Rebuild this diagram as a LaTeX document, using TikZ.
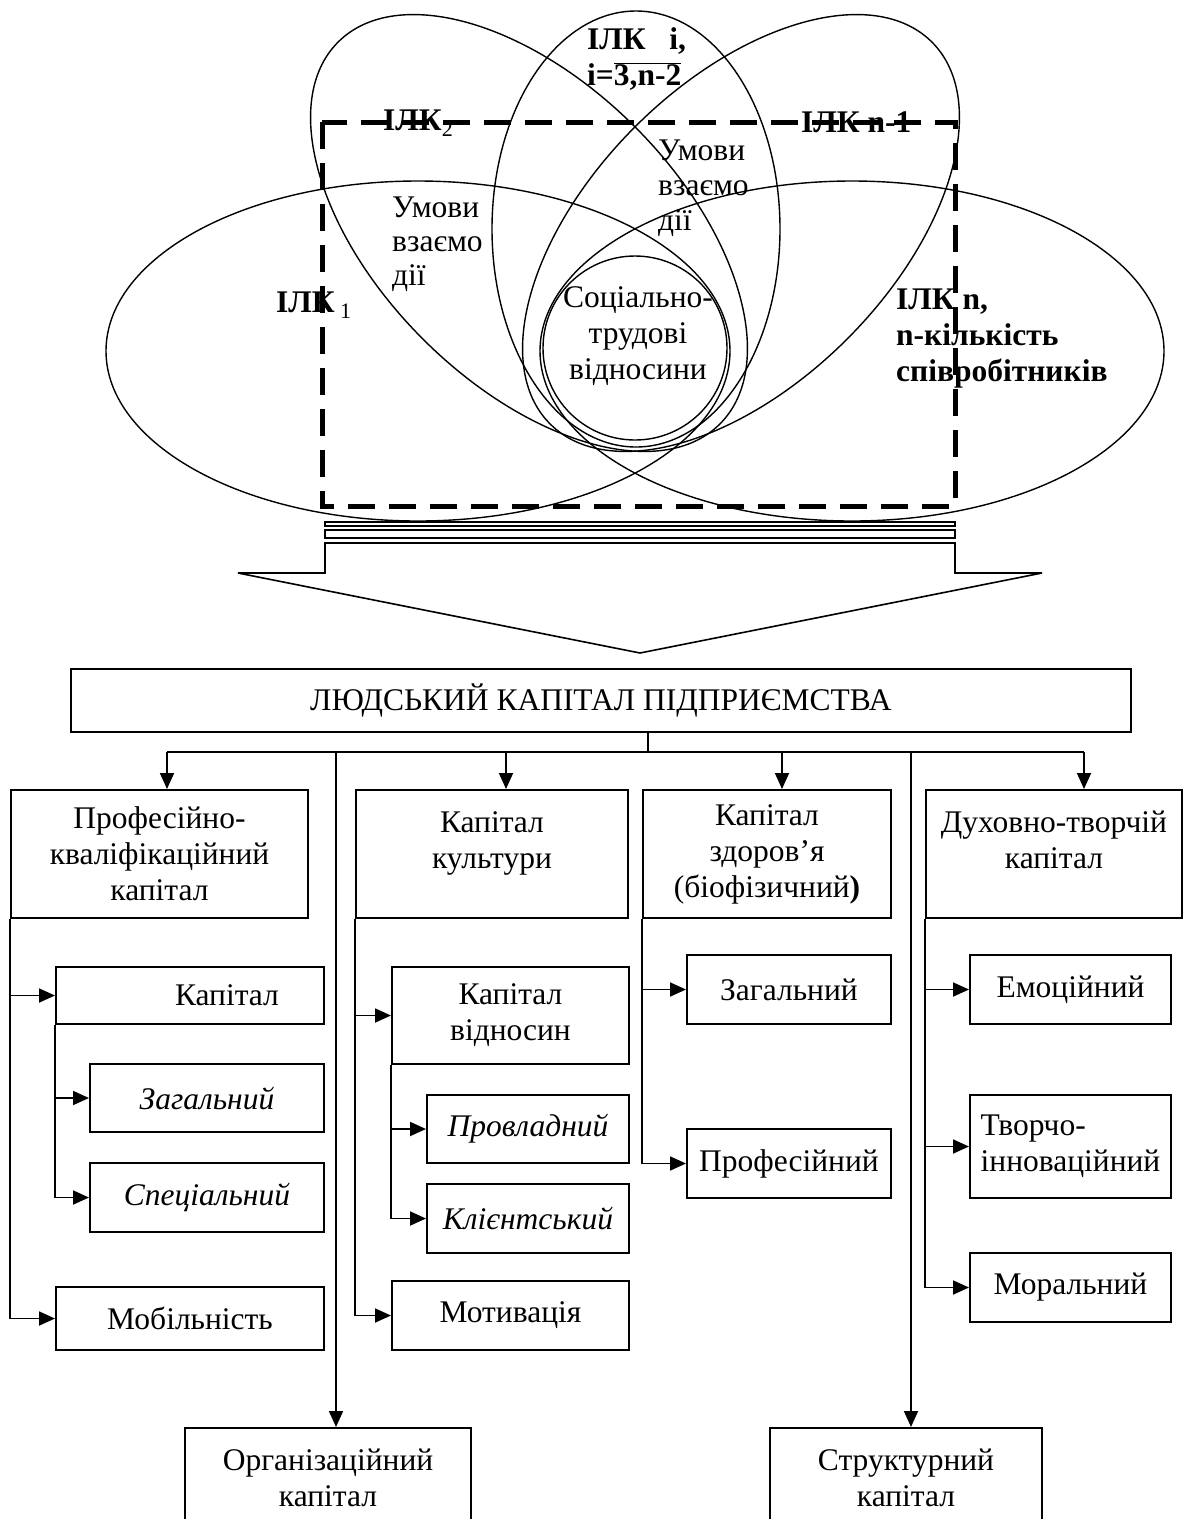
\documentclass[tikz,border=0pt]{standalone}
\usepackage{fontspec}
\setmainfont{Liberation Serif}
\usetikzlibrary{arrows.meta,positioning}

\begin{document}
\begin{tikzpicture}[x=1pt,y=-1pt,
  every node/.style={font=\fontsize{31.5}{36}\selectfont,align=center},
  box/.style={draw,line width=2pt,inner sep=0pt,anchor=north west},
  lbl/.style={inner sep=0pt,anchor=west,align=left,font=\fontsize{31.5}{36}\selectfont\bfseries},
  arr/.style={-{Triangle[length=16pt,width=14pt]},line width=1.8pt},
  petal/.style={line width=1.4pt}]
\clip (0,0) rectangle (1193,1519);
% individual human capitals
\draw[petal] (418,351) ellipse [x radius=312pt,y radius=170pt];
\draw[petal] (852,351) ellipse [x radius=312pt,y radius=170pt];
\draw[petal,rotate around={-45:(529,233)}] (529,233) ellipse [x radius=270pt,y radius=150pt];
\draw[petal,rotate around={45:(741,233)}] (741,233) ellipse [x radius=270pt,y radius=150pt];
\draw[petal] (636,229) ellipse [x radius=144pt,y radius=218pt];
\draw[petal] (635,348) circle [radius=92pt];
\node[lbl] (ilk1) at (276,305) {ІЛК\,\textsubscript{\mdseries 1}};
\node[lbl] (ilk2) at (383,123) {ІЛК\textsubscript{\mdseries 2}};
\node[lbl] (ilki) at (587,59) {ІЛК~~ i,\\i=\(\overline{\hbox{3,n-2}}\)};
\node[lbl] (ilkn1) at (801,122) {ІЛК n-1};
\node[lbl] (ilkn) at (896,339) {ІЛК n,\\n-кількість\\співробітників};
\node[lbl,font=\fontsize{31.5}{34}\selectfont] (umovl) at (392,244) {Умови\\взаємо\\дії};
\node[lbl,font=\fontsize{31.5}{35}\selectfont] (umovr) at (658,188) {Умови\\взаємо\\дії};
\node[inner sep=0pt] (soc) at (638,336) {Соціально-\\трудові\\відносини};
\draw[line width=5pt,dash pattern=on 27pt off 14pt] (322,122) rectangle (955,506);
% striped arrow down
\draw[line width=1.3pt] (325,522) rectangle (955,526);
\draw[line width=1.3pt] (325,530) rectangle (955,538);
\draw[line width=1.6pt] (325,573) -- (325,543) -- (955,543) -- (955,573) -- (1042,573) -- (640,653) -- (238,573) -- cycle;
% structure of human capital
\node[box,minimum width=1060pt,minimum height=63pt] (main) at (70,668) {ЛЮДСЬКИЙ КАПІТАЛ ПІДПРИЄМСТВА};
\node[box,minimum width=297pt,minimum height=128pt] (prof) at (10,789) {Професійно-\\кваліфікаційний\\капітал};
\node[box,minimum width=272pt,minimum height=128pt] (cult) at (355,789) {};
\node[inner sep=0pt,below=22pt of cult.north] (culttxt) {Капітал\\культури};
\node[box,minimum width=248pt,minimum height=128pt] (health) at (642,789) {Капітал\\здоров’я\\(біофізичний\textbf{)}};
\node[box,minimum width=256pt,minimum height=128pt] (spirit) at (925,789) {};
\node[inner sep=0pt,below=22pt of spirit.north] (spirittxt) {Духовно-творчій\\капітал};
\node[box,minimum width=268pt,minimum height=57pt] (kap) at (55,966) {\hspace*{74pt}Капітал};
\node[box,minimum width=234pt,minimum height=68pt] (zaggen) at (89,1063) {\itshape Загальний};
\node[box,minimum width=234pt,minimum height=69pt] (spec) at (89,1162) {\itshape Спеціальний};
\node[box,minimum width=268pt,minimum height=63pt] (mob) at (55,1286) {Мобільність};
\node[box,minimum width=237pt,minimum height=97pt] (rel) at (391,966) {Капітал\\відносин};
\node[box,minimum width=202pt,minimum height=68pt] (prov) at (426,1094) {\itshape Провладний};
\node[box,minimum width=202pt,minimum height=69pt] (client) at (426,1183) {\itshape Клієнтський};
\node[box,minimum width=237pt,minimum height=69pt] (motiv) at (391,1280) {Мотивація};
\node[box,minimum width=204pt,minimum height=69pt] (zaghealth) at (686,954) {Загальний};
\node[box,minimum width=204pt,minimum height=69pt] (profhealth) at (686,1128) {Професійний};
\node[box,minimum width=201pt,minimum height=69pt] (emo) at (969,954) {Емоційний};
\node[box,minimum width=201pt,minimum height=103pt,align=left] (creat) at (969,1094) {Творчо-\\інноваційний};
\node[box,minimum width=201pt,minimum height=69pt] (moral) at (969,1252) {Моральний};
\node[box,minimum width=286pt,minimum height=100pt] (org) at (184,1427) {Організаційний\\капітал};
\node[box,minimum width=272pt,minimum height=100pt] (struct) at (769,1427) {Структурний\\капітал};
% bus under the main box
\coordinate (bus) at (648,752);
\coordinate (b1) at (167,752);
\coordinate (b2) at (336,752);
\coordinate (b3) at (506,752);
\coordinate (b4) at (782,752);
\coordinate (b5) at (911,752);
\coordinate (b6) at (1084,752);
\draw[line width=1.8pt] (bus |- main.south) -- (bus);
\draw[line width=1.8pt] (b1) -- (b6);
\draw[arr] (b1) -- (b1 |- prof.north);
\draw[arr] (b3) -- (b3 |- cult.north);
\draw[arr] (b4) -- (b4 |- health.north);
\draw[arr] (b6) -- (b6 |- spirit.north);
\draw[arr] (b2) -- (b2 |- org.north);
\draw[arr] (b5) -- (b5 |- struct.north);
% branches
\draw[arr] (prof.south west) |- (kap.west);
\draw[arr] (prof.south west) |- (mob.west);
\draw[arr] (kap.south west) |- (zaggen.west);
\draw[arr] (kap.south west) |- (spec.west);
\draw[arr] (cult.south west) |- (rel.west);
\draw[arr] (cult.south west) |- (motiv.west);
\draw[arr] (rel.south west) |- (prov.west);
\draw[arr] (rel.south west) |- (client.west);
\draw[arr] (health.south west) |- (zaghealth.west);
\draw[arr] (health.south west) |- (profhealth.west);
\draw[arr] (spirit.south west) |- (emo.west);
\draw[arr] (spirit.south west) |- (creat.west);
\draw[arr] (spirit.south west) |- (moral.west);
\end{tikzpicture}
\end{document}
